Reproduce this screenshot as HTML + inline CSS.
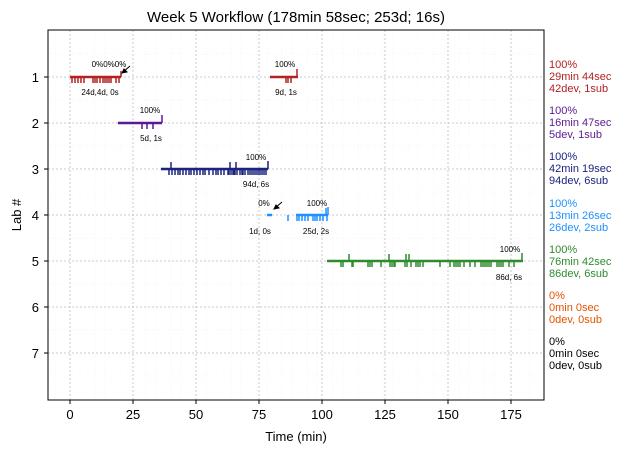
<!DOCTYPE html>
<html><head><meta charset="utf-8"><style>body{margin:0;background:#fff}svg{display:block;font-family:"Liberation Sans","DejaVu Sans",sans-serif}</style></head><body>
<svg width="630" height="453" viewBox="0 0 630 453">
<rect width="630" height="453" fill="#fff"/>
<text x="296" y="22" font-size="15" text-anchor="middle">Week 5 Workflow (178min 58sec; 253d; 16s)</text>
<g stroke="#eee" stroke-width="0.6" stroke-dasharray="1,2">
<path d="M55 30V400M80 30V400M95 30V400M105 30V400M120 30V400M130 30V400M146 30V400M156 30V400M171 30V400M181 30V400M206 30V400M216 30V400M231 30V400M241 30V400M257 30V400M267 30V400M282 30V400M292 30V400M307 30V400M317 30V400M333 30V400M343 30V400M358 30V400M368 30V400M383 30V400M393 30V400M408 30V400M418 30V400M434 30V400M444 30V400M459 30V400M469 30V400M484 30V400M494 30V400M520 30V400M530 30V400"/>
<path d="M48 54H544M48 100H544M48 146H544M48 192H544M48 238H544M48 284H544M48 330H544M48 376H544"/>
</g>
<g stroke="#bbb" stroke-width="0.8" stroke-dasharray="2,2">
<path d="M70 30V400M133 30V400M196 30V400M259 30V400M322 30V400M385 30V400M448 30V400M511 30V400"/>
<path d="M48 77H544M48 123H544M48 169H544M48 215H544M48 261H544M48 307H544M48 353H544"/>
</g>
<rect x="48" y="30" width="496" height="370" fill="none" stroke="#000" stroke-width="1"/>
<g stroke="#000"><path d="M70 400v4M133 400v4M196 400v4M259 400v4M322 400v4M385 400v4M448 400v4M511 400v4M48 77h-4M48 123h-4M48 169h-4M48 215h-4M48 261h-4M48 307h-4M48 353h-4"/></g>
<g font-size="13" text-anchor="middle"><text x="70" y="419">0</text><text x="133" y="419">25</text><text x="196" y="419">50</text><text x="259" y="419">75</text><text x="322" y="419">100</text><text x="385" y="419">125</text><text x="448" y="419">150</text><text x="511" y="419">175</text></g>
<g font-size="13" text-anchor="end"><text x="39" y="82">1</text><text x="39" y="128">2</text><text x="39" y="174">3</text><text x="39" y="220">4</text><text x="39" y="266">5</text><text x="39" y="312">6</text><text x="39" y="358">7</text></g>
<text x="296" y="441" font-size="13" text-anchor="middle">Time (min)</text>
<text transform="translate(21,215) rotate(-90)" font-size="13" text-anchor="middle">Lab #</text>
<g stroke="#b22222" fill="none">
<path d="M70 77H121M270 77H298" stroke-width="2.5"/>
<path d="M72 77v6M75 77v6M78 77v6M81 77v6M84 77v6M93 77v6M95 77v6M97 77v6M100 77v6M103 77v6M105 77v6M107 77v6M109 77v6M111 77v6M116 77v6M119 77v6M121 77v-6M286 77v6M288 77v6M291 77v6M297 77v-8" stroke-width="1.5"/>
</g>
<g stroke="#5b1a8f" fill="none"><path d="M118 123H162" stroke-width="2.5"/><path d="M142 123v6M147 123v6M153 123v6M162 123v-8" stroke-width="1.5"/></g>
<g stroke="#1a237e" fill="none"><path d="M161 169H268" stroke-width="2.5"/>
<path d="M169 169v6M171 169v-7M172 169v6M175 169v6M178 169v6M180 169v6M183 169v6M186 169v6M189 169v6M191 169v6M194 169v6M197 169v6M200 169v6M203 169v6M205 169v6M209 169v6M213 169v6M216 169v6M218 169v6M221 169v6M224 169v6M228 169v6M229 169v6M230 169v-7M231 169v6M233 169v6M235 169v6M237 169v6M236 169v-7M240 169v6M242 169v6M243 169v6M234 169v6M245 169v6M248 169v6M250 169v6M252 169v6M254 169v6M256 169v6M258 169v6M260 169v6M262 169v6M264 169v6M266 169v6M268 169v-8" stroke-width="1.5"/></g>
<g stroke="#1e90ff" fill="none"><path d="M267 215H272M296 215H328" stroke-width="2.5"/>
<path d="M288 215v6M297 215v6M299 215v6M302 215v6M305 215v6M308 215v6M313 215v6M315 215v6M317 215v6M320 215v6M323 215v6M326 215v-7M327 215v6M328 215v-8" stroke-width="1.5"/></g>
<g stroke="#2e8b2e" fill="none"><path d="M327 261H523" stroke-width="2.5"/>
<path d="M341 261v6M343 261v6M349 261v-7M352 261v6M353 261v6M368 261v6M370 261v6M372 261v6M381 261v6M389 261v-7M390 261v6M392 261v6M394 261v6M395 261v6M405 261v6M406 261v-7M407 261v6M409 261v-7M411 261v6M416 261v6M418 261v6M420 261v6M423 261v6M440 261v6M450 261v6M454 261v6M456 261v6M458 261v6M460 261v6M464 261v6M470 261v6M475 261v6M481 261v6M483 261v6M485 261v6M487 261v6M489 261v6M491 261v6M497 261v6M499 261v6M501 261v6M503 261v6M509 261v6M514 261v6M522 261v-8" stroke-width="1.5"/></g>
<g font-size="8" text-anchor="middle" fill="#000">
<text x="109" y="67">0%0%0%</text><text x="100" y="95">24d,4d, 0s</text>
<text x="285" y="67">100%</text><text x="286" y="95">9d, 1s</text>
<text x="150" y="113">100%</text><text x="151" y="141">5d, 1s</text>
<text x="256" y="160">100%</text><text x="256" y="187">94d, 6s</text>
<text x="264" y="206">0%</text><text x="260" y="234">1d, 0s</text>
<text x="317" y="206">100%</text><text x="316" y="234">25d, 2s</text>
<text x="510" y="252">100%</text><text x="509" y="280">86d, 6s</text>
</g>
<g stroke="#000" fill="#000" stroke-width="1"><path d="M130 66L123 72"/><path d="M122 73l5-1l-3-3z"/><path d="M282 202L275 208"/><path d="M274 209l5-1l-3-3z"/></g>
<g font-size="11">
<g fill="#b22222"><text x="549" y="68">100%</text><text x="549" y="80">29min 44sec</text><text x="549" y="92">42dev, 1sub</text></g>
<g fill="#5b1a8f"><text x="549" y="114">100%</text><text x="549" y="126">16min 47sec</text><text x="549" y="138">5dev, 1sub</text></g>
<g fill="#1a237e"><text x="549" y="160">100%</text><text x="549" y="172">42min 19sec</text><text x="549" y="184">94dev, 6sub</text></g>
<g fill="#1e90ff"><text x="549" y="207">100%</text><text x="549" y="219">13min 26sec</text><text x="549" y="231">26dev, 2sub</text></g>
<g fill="#2e8b2e"><text x="549" y="253">100%</text><text x="549" y="265">76min 42sec</text><text x="549" y="277">86dev, 6sub</text></g>
<g fill="#e65100"><text x="549" y="299">0%</text><text x="549" y="311">0min 0sec</text><text x="549" y="323">0dev, 0sub</text></g>
<g fill="#000"><text x="549" y="345">0%</text><text x="549" y="357">0min 0sec</text><text x="549" y="369">0dev, 0sub</text></g>
</g>
</svg>
</body></html>
